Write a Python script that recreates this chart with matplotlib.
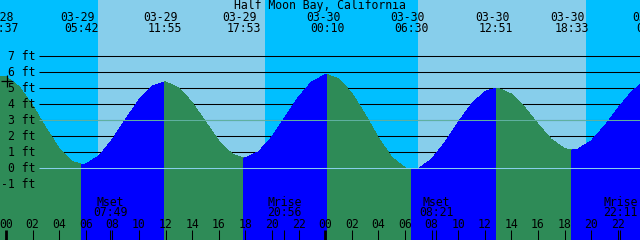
import numpy as np
import matplotlib
matplotlib.use('Agg')
import matplotlib.pyplot as plt
from matplotlib.transforms import blended_transform_factory, offset_copy

# ---------------- data ----------------
title = 'Half Moon Bay, California'

# tide extremes (labels along the top)
tide_dates = ['03-28', '03-29', '03-29', '03-29', '03-30', '03-30', '03-30', '03-30', '03-31']
tide_clock = ['23:37', '05:42', '11:55', '17:53', '00:10', '06:30', '12:51', '18:33', '00:42']
tide_feet = [5.75, 0.22, 5.38, 0.62, 5.83, -0.12, 5.00, 1.12, 5.50]

# tide level read every hour (hours after 03-29 00:00), plus the two picture edges
curve_hours = [-0.45, 0, 1, 2, 3, 4, 5, 6, 7, 8, 9, 10, 11, 12, 13, 14, 15, 16, 17,
               18, 19, 20, 21, 22, 23, 24, 25, 26, 27, 28, 29, 30, 31, 32, 33, 34,
               35, 36, 37, 38, 39, 40, 41, 42, 43, 44, 45, 46, 47, 47.67]
curve_feet = [5.74, 5.70, 5.07, 3.91, 2.50, 1.22, 0.40, 0.25, 0.76, 1.78, 3.05, 4.26,
              5.11, 5.38, 5.00, 4.09, 2.88, 1.70, 0.87, 0.63, 1.02, 1.95, 3.19, 4.44,
              5.40, 5.82, 5.58, 4.68, 3.35, 1.89, 0.67, 0.02, -0.04, 0.55, 1.60, 2.85,
              4.00, 4.77, 4.99, 4.62, 3.79, 2.74, 1.79, 1.21, 1.18, 1.69, 2.62, 3.73,
              4.72, 5.22]

# sunrise / sunset
sun_dates = ['03-29', '03-29', '03-30', '03-30']
sun_clock = ['06:53', '19:28', '06:58', '19:36']

# moon events (labels along the bottom)
moon_names = ['Mset', 'Mrise', 'Mset', 'Mrise']
moon_dates = ['03-29', '03-29', '03-30', '03-30']
moon_clock = ['07:49', '20:56', '08:21', '22:11']

# small cross near the left edge
cross_clock = ['00:05']
cross_feet = [5.45]

feet_levels = [7, 6, 5, 4, 3, 2, 1, 0, -1]
msl_level = 3
datum_level = 0
hour_ticks = list(range(0, 48, 2))

# ---------------- colours ----------------
day_col = '#87CEEB'
night_col = '#00BFFF'
flood_col = '#0000FF'
ebb_col = '#2E8B57'
msl_col = '#5FB0A0'
datum_col = '#87CEEB'

day0 = {'03-28': -24, '03-29': 0, '03-30': 24, '03-31': 48}


def to_hours(dates, clocks):
    out = []
    for d, c in zip(dates, clocks):
        hh, mm = c.split(':')
        out.append(day0[d] + int(hh) + int(mm) / 60)
    return np.array(out)


tide_hours = to_hours(tide_dates, tide_clock)
sun_hours = to_hours(sun_dates, sun_clock)
moon_hours = to_hours(moon_dates, moon_clock)
cross_hours = to_hours(['03-29'], cross_clock)

# merge hourly readings with the extremes
t = np.concatenate([curve_hours, tide_hours])
h = np.concatenate([curve_feet, tide_feet])
order = np.argsort(t)
t, h = t[order], h[order]
keep = t <= curve_hours[-1]
t, h = t[keep], h[keep]

# ---------------- figure ----------------
plt.rcParams['font.family'] = ['DejaVu Sans Mono']
fs = 8.3

fig = plt.figure(figsize=(6.4, 2.4), dpi=100)
fig.patch.set_facecolor(night_col)
ax = fig.add_axes([0, 0, 1, 1])
ax.set_xlim(curve_hours[0], curve_hours[-1])
ax.set_ylim(-4.5, 10.5)
ax.set_axis_off()

# daylight
for rise, sset in zip(sun_hours[0::2], sun_hours[1::2]):
    ax.axvspan(rise, sset, color=day_col, lw=0, zorder=0)

# foot lines behind the water
ytrans = ax.get_yaxis_transform()
ax.hlines(feet_levels, 39 / 640, 1, transform=ytrans, color='black', lw=0.75, zorder=1)

# water: flood (rising) blue, ebb (falling) green
bounds = [t[0]] + [x for x in tide_hours if t[0] < x < t[-1]] + [t[-1]]
for a, b in zip(bounds[:-1], bounds[1:]):
    m = (t >= a) & (t <= b)
    rising = np.interp(b, t, h) > np.interp(a, t, h)
    ax.fill_between(t[m], h[m], -10, color=flood_col if rising else ebb_col,
                    lw=0, antialiased=False, zorder=2)

ax.hlines([msl_level], 39 / 640, 1, transform=ytrans, color=msl_col, lw=0.75, zorder=3)
ax.hlines([datum_level], 39 / 640, 1, transform=ytrans, color=datum_col, lw=0.75, zorder=3)

ax.plot(cross_hours, cross_feet, marker='+', ms=8, mew=0.9, color='black', ls='none', zorder=4)

# left level labels
for lv in feet_levels:
    ax.text(35 / 640, lv, f'{lv} ft', transform=ytrans, ha='right', va='center',
            fontsize=fs, zorder=5)

# title and tide labels along the top
ax.text(0.5, 1 - 5.5 / 240, title, transform=ax.transAxes, ha='center', va='center',
        fontsize=fs, zorder=5)
xtrans = ax.get_xaxis_transform()
date_trans = offset_copy(xtrans, fig=fig, x=-4, units='dots')
for x, d, c in zip(tide_hours, tide_dates, tide_clock):
    ax.text(x, 1 - 17.5 / 240, d, transform=date_trans, ha='center', va='center',
            fontsize=fs, zorder=5)
    ax.text(x, 1 - 29 / 240, c, transform=xtrans, ha='center', va='center',
            fontsize=fs, zorder=5)

# moon events along the bottom
for x, n, c in zip(moon_hours, moon_names, moon_clock):
    ax.text(x, (240 - 202) / 240, n, transform=xtrans, ha='center', va='center',
            fontsize=fs, zorder=5)
    ax.text(x, (240 - 213) / 240, c, transform=xtrans, ha='center', va='center',
            fontsize=fs, zorder=5)
ax.vlines(moon_hours, 0, 10 / 240, transform=xtrans, color='black', lw=0.75, zorder=5)

# hour ticks
for hr in hour_ticks:
    ax.text(hr, (240 - 225) / 240, f'{hr % 24:02d}', transform=xtrans, ha='center',
            va='center', fontsize=fs, zorder=5)
    ax.vlines(hr, 0, 10 / 240, transform=xtrans, color='black',
              lw=2.0 if hr % 24 == 0 else 0.75, zorder=5)

fig.savefig('out.png', dpi=100, facecolor=night_col)
